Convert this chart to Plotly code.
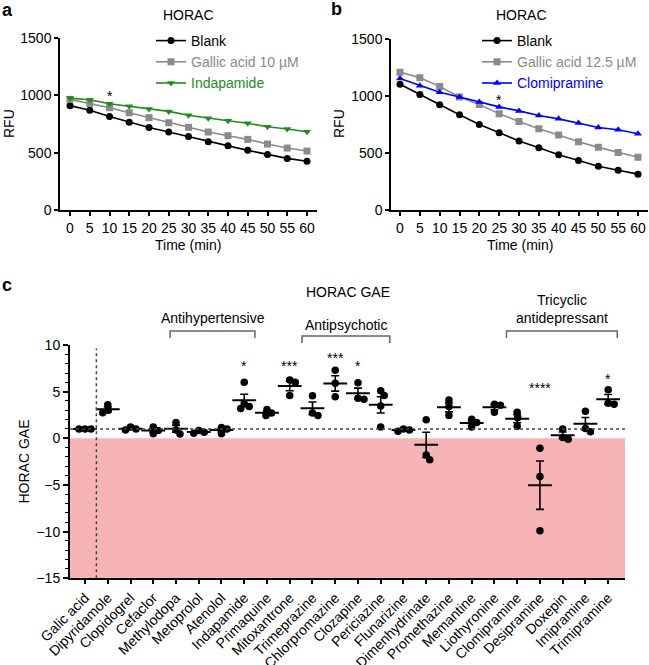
import plotly.graph_objects as go

# ---------------- data ----------------
time_min = [0, 5, 10, 15, 20, 25, 30, 35, 40, 45, 50, 55, 60]

a_blank = [910, 870, 815, 765, 720, 680, 640, 595, 560, 520, 485, 450, 425]
a_gallic = [965, 930, 892, 848, 805, 761, 721, 680, 648, 616, 575, 540, 514]
a_indapamide = [976, 962, 927, 904, 880, 860, 826, 800, 779, 756, 726, 706, 683]

b_blank = [1105, 1015, 925, 838, 753, 680, 608, 549, 488, 436, 386, 351, 317]
b_gallic = [1212, 1162, 1087, 994, 927, 848, 779, 715, 660, 602, 552, 506, 465]
b_clomipramine = [1157, 1093, 1035, 994, 950, 907, 872, 831, 802, 765, 726, 706, 671]

a_sig_x, a_sig_y, a_sig_text = [10], [1020], ["*"]
b_sig_x, b_sig_y, b_sig_text = [25], [992], ["*"]

drugs = ["Galic acid", "Dipyridamole", "Clopidogrel", "Cefaclor", "Methylodopa",
         "Metoprolol", "Atenolol", "Indapamide", "Primaquine", "Mitoxantrone",
         "Trimeprazine", "Chlorpromazine", "Clozapine", "Periciazine", "Flunarizine",
         "Dimenhydrinate", "Promethazine", "Memantine", "Liothyronine", "Clomipramine",
         "Desipramine", "Doxepin", "Imipramine", "Trimipramine"]

gae_values = [
    [1.0, 1.0, 1.0],          # Galic acid
    [3.6, 3.0, 2.75],         # Dipyridamole
    [1.2, 1.0, 0.9],          # Clopidogrel
    [1.2, 0.85, 0.5],         # Cefaclor
    [1.7, 0.9, 0.45],         # Methylodopa
    [0.85, 0.65, 0.55],       # Metoprolol
    [1.15, 1.0, 0.5],         # Atenolol
    [6.0, 3.7, 3.4, 3.2],     # Indapamide
    [3.1, 2.7, 2.45],         # Primaquine
    [6.25, 6.0, 4.6],         # Mitoxantrone
    [4.55, 2.7, 2.45],        # Trimeprazine
    [7.3, 5.9, 4.45],         # Chlorpromazine
    [5.95, 4.3, 4.2],         # Clozapine
    [5.1, 4.6, 3.45, 1.2],    # Periciazine
    [1.0, 0.9, 0.75],         # Flunarizine
    [2.0, -1.8, -2.3],        # Dimenhydrinate
    [4.1, 3.4, 2.45],         # Promethazine
    [2.05, 1.7, 1.2],         # Memantine
    [3.65, 3.55, 2.8],        # Liothyronine
    [2.8, 2.2, 1.3],          # Clomipramine
    [-1.07, -4.1, -9.9],      # Desipramine
    [1.0, 0.1, -0.1],         # Doxepin
    [2.9, 1.05, 0.7],         # Imipramine
    [5.2, 3.75, 3.65],        # Trimipramine
]

sig_drugs = ["Indapamide", "Mitoxantrone", "Chlorpromazine", "Clozapine", "Desipramine", "Trimipramine"]
sig_labels = ["*", "***", "***", "*", "****", "*"]
sig_level = [8.07, 8.07, 8.9, 8.07, 5.7, 6.7]

groups = ["Antihypertensive", "Antipsychotic", "Tricyclic<br>antidepressant"]
group_first = ["Methylodopa", "Trimeprazine", "Clomipramine"]
group_last = ["Indapamide", "Periciazine", "Trimipramine"]

# ---------------- layout helpers ----------------
W, H = 649, 665
FONT = "Liberation Sans, Arial, Helvetica, sans-serif"
FS = 14


def px(x):
    return x / W


def py(y):
    return 1 - y / H


fig = go.Figure()


def add_series(x, y, name, color, symbol, xa, ya, legend):
    fig.add_trace(go.Scatter(
        x=x, y=y, mode="lines+markers",
        name=f'<span style="color:{color}">{name}</span>',
        line=dict(color=color, width=1.6),
        marker=dict(symbol=symbol, size=7, color=color, line=dict(width=0)),
        xaxis=xa, yaxis=ya, legend=legend, hoverinfo="x+y"))


# ---------------- panel a ----------------
add_series(time_min, a_blank, "Blank", "#000000", "circle", "x", "y", "legend")
add_series(time_min, a_gallic, "Gallic acid 10 µM", "#8a8a8a", "square", "x", "y", "legend")
add_series(time_min, a_indapamide, "Indapamide", "#1e8c1e", "triangle-down", "x", "y", "legend")

# ---------------- panel b ----------------
add_series(time_min, b_blank, "Blank", "#000000", "circle", "x2", "y2", "legend2")
add_series(time_min, b_gallic, "Gallic acid 12.5 µM", "#8a8a8a", "square", "x2", "y2", "legend2")
add_series(time_min, b_clomipramine, "Clomipramine", "#0000ff", "triangle-up", "x2", "y2", "legend2")

# ---------------- panel c ----------------
XS = 22.75   # px per category
YS = 9.333   # px per GAE unit


def swarm(vals, dmin=5.6):
    placed = []
    offs = [0.0] * len(vals)
    order = sorted(range(len(vals)), key=lambda i: -vals[i])
    cands = [0.0]
    for k in range(1, 60):
        cands += [k * 0.5, -k * 0.5]
    for i in order:
        yp = vals[i] * YS
        for c in cands:
            if all(((c - ox) ** 2 + (yp - oy) ** 2) ** 0.5 >= dmin for ox, oy in placed):
                offs[i] = c
                placed.append((c, yp))
                break
    return [o / XS for o in offs]


pts_x, pts_y = [], []
mean_x, mean_y, sem_y = [], [], []
for i, vals in enumerate(gae_values):
    offs = swarm(vals)
    pts_x += [i + o for o in offs]
    pts_y += vals
    n = len(vals)
    m = sum(vals) / n
    sd = (sum((v - m) ** 2 for v in vals) / (n - 1)) ** 0.5
    mean_x.append(i)
    mean_y.append(m)
    sem_y.append(sd / n ** 0.5)

fig.add_trace(go.Scatter(
    x=mean_x, y=mean_y, mode="markers",
    marker=dict(symbol="line-ew", size=17, color="black", line=dict(width=2, color="black")),
    error_y=dict(type="data", array=sem_y, visible=True, color="black", thickness=1.6, width=4),
    xaxis="x3", yaxis="y3", showlegend=False))
fig.add_trace(go.Scatter(
    x=pts_x, y=pts_y, mode="markers",
    marker=dict(symbol="circle", size=7.5, color="black"),
    xaxis="x3", yaxis="y3", showlegend=False))

# ---------------- axes ----------------
axis_common = dict(showgrid=False, zeroline=False, showline=True, linecolor="black",
                   automargin=False, ticks="outside", tickcolor="black",
                   tickfont=dict(size=FS, color="black", family=FONT))

fig.update_layout(
    xaxis=dict(domain=[px(60), px(317)], range=[-2.53, 62.53], anchor="y",
               tickmode="array", tickvals=time_min, tickangle=0, ticklen=4, tickwidth=1.5,
               linewidth=1.5, **axis_common),
    yaxis=dict(domain=[py(210), py(38)], range=[0, 1500], anchor="x",
               tickvals=[0, 500, 1000, 1500], ticklen=4, tickwidth=1.5, linewidth=1.5,
               **axis_common),
    xaxis2=dict(domain=[px(391), px(648)], range=[-2.27, 62.52], anchor="y2",
                tickmode="array", tickvals=time_min, tickangle=0, ticklen=4, tickwidth=1.5,
                linewidth=1.5, **axis_common),
    yaxis2=dict(domain=[py(210.3), py(39.3)], range=[0, 1500], anchor="x2",
                tickvals=[0, 500, 1000, 1500], ticklen=4, tickwidth=1.5, linewidth=1.5,
                **axis_common),
    xaxis3=dict(domain=[px(70), px(625)], range=[-0.66, 23.74], anchor="y3",
                tickmode="array", tickvals=list(range(len(drugs))), ticktext=drugs,
                tickangle=-45, ticklen=4, tickwidth=1.5, linewidth=2, **axis_common),
    yaxis3=dict(domain=[py(578.3), py(345)], range=[-15, 10], anchor="x3",
                tickvals=[-15, -10, -5, 0, 5, 10], ticklen=5, tickwidth=1.5, linewidth=2,
                minor=dict(dtick=1, ticks="outside", ticklen=3, tickwidth=1.2, tickcolor="black"),
                **axis_common),
)

# ---------------- shapes ----------------
shapes = [
    dict(type="rect", xref="x3 domain", yref="y3", x0=0, x1=1, y0=-15, y1=0,
         fillcolor="#f7b4b6", line=dict(width=0), layer="below"),
    dict(type="line", xref="x3 domain", yref="y3", x0=0, x1=1, y0=1, y1=1,
         line=dict(color="#444444", width=1.5, dash="dot")),
    dict(type="line", xref="x3", yref="y3 domain", x0=0.5, x1=0.5, y0=0, y1=0.985,
         line=dict(color="#444444", width=1.5, dash="dot")),
]
bracket_pad = [(-0.26, 0.47), (-0.46, 0.40), (-0.47, 0.40)]
bracket_top = [331, 336, 331]
for g, (f, l) in enumerate(zip(group_first, group_last)):
    x0 = drugs.index(f) + bracket_pad[g][0]
    x1 = drugs.index(l) + bracket_pad[g][1]
    yt, yb = py(bracket_top[g]), py(bracket_top[g] + 7)
    shapes.append(dict(type="path", xref="x3", yref="paper",
                       path=f"M{x0},{yb} L{x0},{yt} L{x1},{yt} L{x1},{yb}",
                       line=dict(color="#666666", width=1.5)))
fig.update_layout(shapes=shapes)

# ---------------- annotations ----------------
ann = []


def text(x, y, s, size=FS, xref="paper", yref="paper", angle=0, bold=False,
         xanchor="center", yanchor="middle", **kw):
    ann.append(dict(x=x, y=y, xref=xref, yref=yref, text=f"<b>{s}</b>" if bold else s,
                    showarrow=False, textangle=angle, xanchor=xanchor, yanchor=yanchor,
                    font=dict(size=size, color="black", family=FONT), **kw))


text(px(0), py(10), "a", size=18, bold=True, xanchor="left")
text(px(329), py(9), "b", size=18, bold=True, xanchor="left")
text(px(0), py(285), "c", size=18, bold=True, xanchor="left")

text(px(188), py(15), "HORAC")
text(px(521), py(15), "HORAC")
text(px(188), py(245), "Time (min)")
text(px(520), py(245), "Time (min)")
text(px(9), py(124), "RFU", angle=-90)
text(px(339), py(124), "RFU", angle=-90)

text(px(348), py(292), "HORAC GAE")
text(px(23), py(461.5), "HORAC GAE", angle=-90)
group_text_y = [318, 325, 309.5]
for g, (f, l) in enumerate(zip(group_first, group_last)):
    x0 = drugs.index(f) + bracket_pad[g][0]
    x1 = drugs.index(l) + bracket_pad[g][1]
    text((x0 + x1) / 2, py(group_text_y[g]), groups[g], xref="x3")

for xs, ys, ts, xa, ya in [(a_sig_x, a_sig_y, a_sig_text, "x", "y"),
                           (b_sig_x, b_sig_y, b_sig_text, "x2", "y2")]:
    for x, y, t in zip(xs, ys, ts):
        text(x, y, t, xref=xa, yref=ya, yshift=-3)

for d, lab, lev in zip(sig_drugs, sig_labels, sig_level):
    text(drugs.index(d), lev, lab, xref="x3", yref="y3", yshift=-3)

fig.update_layout(annotations=ann)

# ---------------- global layout ----------------
legend_common = dict(xanchor="left", yanchor="top", bgcolor="rgba(0,0,0,0)",
                     font=dict(size=FS, family=FONT, color="black"),
                     itemwidth=30, tracegroupgap=0, borderwidth=0)
fig.update_layout(
    template="none",
    width=W, height=H,
    margin=dict(l=0, r=0, t=0, b=0, autoexpand=False),
    paper_bgcolor="white", plot_bgcolor="rgba(0,0,0,0)",
    font=dict(family=FONT, size=FS, color="black"),
    showlegend=True,
    legend=dict(x=px(151), y=py(25), **legend_common),
    legend2=dict(x=px(477), y=py(25), **legend_common),
)

fig.write_html("out.html", config={"displayModeBar": False},
               post_script="document.body.style.margin='0px';document.body.style.overflow='hidden';")
